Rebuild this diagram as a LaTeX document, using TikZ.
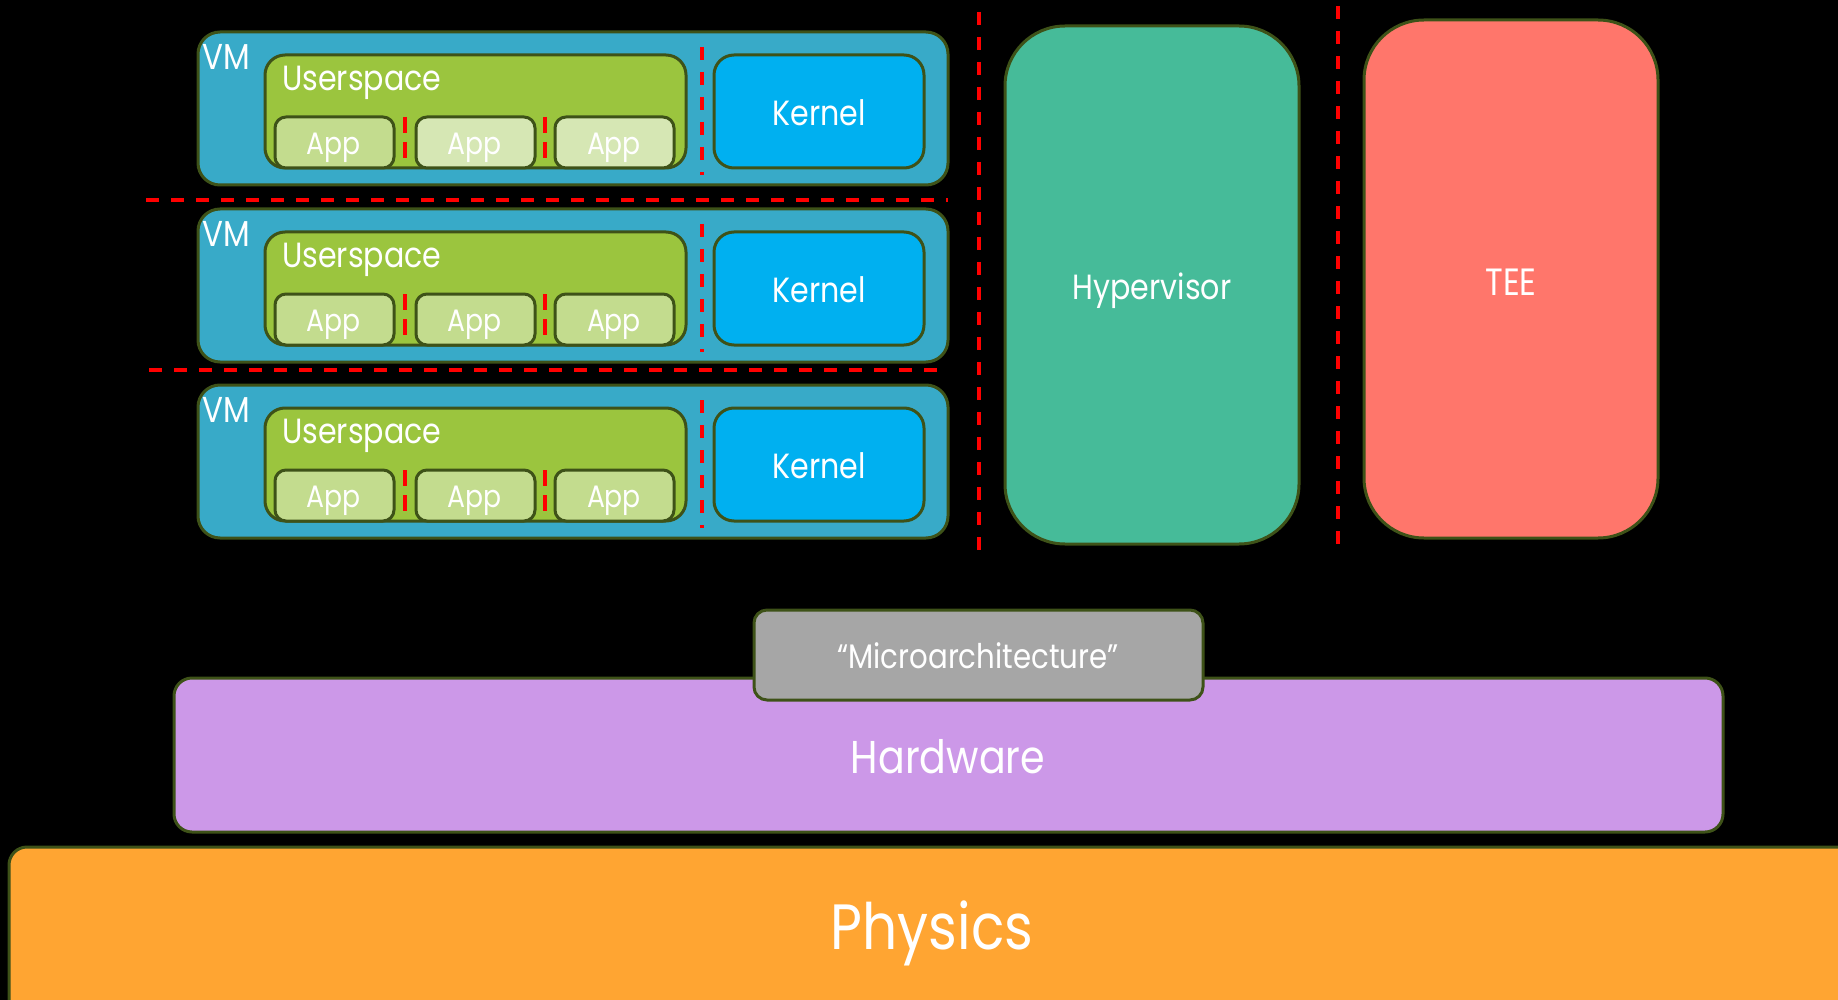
\documentclass[tikz,border=0pt]{standalone}
\usepackage{fontspec}
\setmainfont{Poppins}[FakeStretch=0.86]
\begin{document}
\begin{tikzpicture}[x=1pt,y=-1pt,
  box/.style={draw=edgecol,line width=3pt,rounded corners=#1},
  box/.default=18pt,
  lbl/.style={text=white,inner sep=0pt,font=\fontsize{35}{40}\selectfont},
  sep/.style={draw=red,line width=4pt,dash pattern=on 13pt off 12pt}]
\definecolor{edgecol}{HTML}{3E5218}
\definecolor{vmcol}{HTML}{38AAC8}
\definecolor{uscol}{HTML}{9BC53E}
\definecolor{appcol}{HTML}{C3DC8E}
\definecolor{applt}{HTML}{D6E7B4}
\definecolor{kercol}{HTML}{00B0F0}
\definecolor{hypcol}{HTML}{46BB99}
\definecolor{teecol}{HTML}{FF766B}
\definecolor{miccol}{HTML}{A6A6A6}
\definecolor{hwcol}{HTML}{CC98E8}
\definecolor{phcol}{HTML}{FFA532}
\fill[black] (0,0) rectangle (1838,1000);
\useasboundingbox (0,0) rectangle (1838,1000);
% Physics and hardware
\path[box,fill=phcol] (9,847) rectangle (1856,1020);
\node[lbl,font=\fontsize{64}{70}\selectfont] (phys) at (932,933) {Physics};
\path[box,fill=hwcol] (174,678) rectangle (1723,832);
\node[lbl,font=\fontsize{46}{52}\selectfont] (hw) at (948,757) {Hardware};
\path[box=13pt,fill=miccol] (754,610) rectangle (1203,700);
\node[lbl,font=\fontsize{34}{40}\selectfont] (micro) at (978,656) {“Microarchitecture”};
% Hypervisor and TEE
\path[box=60pt,fill=hypcol] (1005,26) rectangle (1299,544);
\node[lbl] (hyp) at (1152,291) {Hypervisor};
\path[box=60pt,fill=teecol] (1364,20) rectangle (1658,538);
\node[lbl,font=\fontsize{38}{42}\selectfont] (tee) at (1511,282) {TEE};
% separators
\coordinate (s1a) at (979,12); \coordinate (s1b) at (979,556);
\coordinate (s2a) at (1338,6); \coordinate (s2b) at (1338,552);
\draw[sep] (s1a) -- (s1b);
\draw[sep] (s2a) -- (s2b);
\coordinate (h1a) at (146,200); \coordinate (h1b) at (948,200);
\coordinate (h2a) at (149,370); \coordinate (h2b) at (948,370);
\draw[sep] (h1a) -- (h1b);
\draw[sep] (h2a) -- (h2b);
% VM rows
\foreach \r/\t/\cb/\cc in {1/32/applt/applt,2/209/appcol/appcol,3/385/appcol/appcol}{
  \path[box=22pt,fill=vmcol] (198,\t) rectangle (948,\t+153);
  \node[lbl,font=\fontsize{36}{40}\selectfont] (vm\r) at (226,\t+25) {VM};
  \path[box=20pt,fill=uscol] (265,\t+23) rectangle (686,\t+136);
  \node[lbl,anchor=west] (us\r) at (282,\t+51) {Userspace};
  \path[box=11pt,fill=appcol] (275,\t+85) rectangle (394,\t+136);
  \node[lbl,font=\fontsize{31}{36}\selectfont] (appa\r) at (334,\t+116) {App};
  \path[box=11pt,fill=\cb] (416,\t+85) rectangle (535,\t+136);
  \node[lbl,font=\fontsize{31}{36}\selectfont] (appb\r) at (475,\t+116) {App};
  \path[box=11pt,fill=\cc] (555,\t+85) rectangle (674,\t+136);
  \node[lbl,font=\fontsize{31}{36}\selectfont] (appc\r) at (614,\t+116) {App};
  \path[box=20pt,fill=kercol] (714,\t+23) rectangle (924,\t+136);
  \node[lbl] (ker\r) at (819,\t+81) {Kernel};
  \draw[sep] (702,\t+15) -- (702,\t+143);
  \draw[sep,dash pattern=on 16pt off 9pt] (405,\t+85) -- (405,\t+134);
  \draw[sep,dash pattern=on 16pt off 9pt] (545,\t+85) -- (545,\t+134);
}
\end{tikzpicture}
\end{document}
